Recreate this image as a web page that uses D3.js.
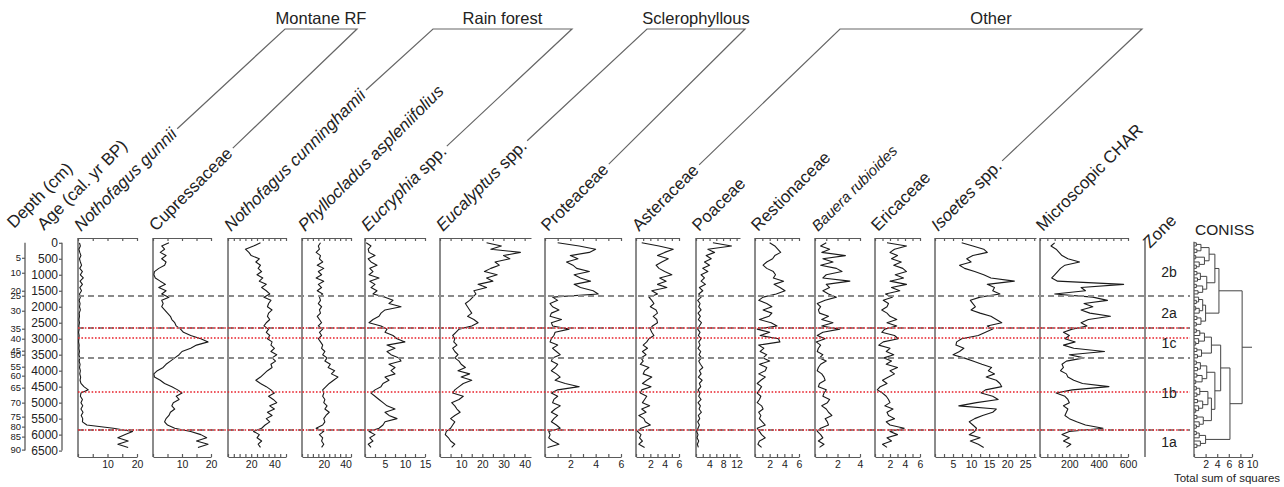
<!DOCTYPE html>
<html>
<head>
<meta charset="utf-8">
<title>Pollen diagram</title>
<script src="https://cdnjs.cloudflare.com/ajax/libs/d3/7.8.5/d3.min.js"></script>
<style>
  body { margin: 0; background: #fff; }
  svg { display: block; font-family: Arial, "Liberation Sans", Helvetica, sans-serif; }
</style>
</head>
<body>
<svg id="chart" width="1284" height="487"></svg>
<script>
// sample ages (cal. yr BP)
const ages = [0,100,200,300,400,500,600,700,800,900,
  1000,1100,1200,1300,1400,1500,1600,1700,1800,1900,
  2000,2100,2200,2300,2400,2500,2600,2700,2800,2900,
  3000,3100,3200,3300,3400,3500,3600,3700,3800,3900,
  4000,4100,4200,4300,4400,4500,4600,4700,4800,4900,
  5000,5100,5200,5300,5400,5500,5600,5700,5800,5900,
  6000,6100,6200,6300,6400];

// percentages, one value per sample
const nGunnii = [0.5,0.8,0.3,0.6,1.0,0.5,0.8,1.2,0.6,1.5, 0.8,1.8,0.7,1.5,0.6,1.2,0.5,0.8,0.4,0.7,
  0.5,0.8,0.4,0.5,0.3,0.5,0.3,0.4,0.2,0.4, 0.3,0.2,0.4,0.3,0.5,0.3,0.6,0.4,0.7,0.5,
  0.8,0.6,0.9,0.7,1.0,2.0,3.5,1.0,0.8,1.5, 1.0,1.6,1.0,1.7,1.1,1.6,1.5,3.0,12,18.5, 16,13.5,17,13.5,17];
const cupressaceae = [5.5,3.0,4.0,2.5,4.5,3.0,4.5,4.0,2.0,0.5, 0.3,0.8,2.5,4.3,2.0,4.5,3.0,5.5,3.0,3.5,
  3.0,4.0,5.0,6.0,6.5,7.5,8.0,9.5,10.5,13.0, 16.5,19.0,15.0,13.0,10.0,9.0,7.5,6.0,4.5,3.5,
  1.5,0.3,0.5,2.5,4.0,6.5,8.5,10.0,8.0,9.0, 7.0,6.5,7.5,6.0,5.5,4.5,4.0,5.0,7.5,13.0, 16.5,18.5,15.0,19.0,15.5];
const nCunninghamii = [28,22,15,18,20,27,24,28,26,29, 25,30,27,33,29,33,36,31,37,35,
  34,38,35,34,36,33,31,35,33,36, 34,38,37,40,37,42,38,41,37,38,
  34,31,28,24,28,33,37,40,35,39, 42,36,40,34,38,33,36,32,29,22, 27,25,29,26,28];
const phyllocladus = [17,15,16,13,17,16,19,14,20,15, 18,13,20,15,18,14,19,16,17,15,
  18,16,17,14,16,18,15,19,16,18, 15,17,19,18,21,19,23,21,26,24,
  30,27,33,29,25,22,19,20,19,21, 20,23,21,25,22,20,21,19,13,20, 16,19,18,20,18];
const eucryphia = [0.3,1.5,0.8,1.0,2.5,0.8,1.5,3.0,1.2,2.0, 1.0,3.5,1.2,2.5,1.5,3.0,2.0,5.0,7.0,6.0,
  9.0,5.0,4.0,3.5,2.0,1.0,4.0,5.5,5.0,7.0, 8.0,10.0,5.5,7.5,5.5,6.5,8.5,9.0,6.0,7.5,
  6.5,7.5,5.0,6.0,4.5,4.0,2.5,1.5,2.5,3.5, 4.5,5.5,7.5,5.0,6.0,8.0,5.0,4.5,3.5,1.0, 2.5,1.2,2.0,0.8,1.5];
const eucalyptus = [22,29,24,38,30,33,26,28,24,21, 27,22,25,18,22,16,17,15.5,14,12,
  13,14,15,13,16,18,15,9,7.5,6, 7,6.5,8,6,7,8.5,7,9,10,12,
  8.5,14,10,15,11,9,7,6,11,9, 5.5,7,8,9.5,7,5,7,6,5,3, 2.5,4,5,7,5.5];
const proteaceae = [1.0,2.7,4.0,3.5,2.0,2.6,1.7,2.2,2.5,3.5, 2.3,2.8,3.6,2.3,2.8,3.8,4.2,0.6,1.0,0.4,
  0.6,1.1,0.5,0.4,1.3,0.5,0.6,1.9,0.8,0.7, 0.5,0.4,1.0,0.6,0.9,1.2,0.6,0.5,1.0,0.8,
  0.5,0.9,1.2,0.8,1.6,2.7,1.0,0.5,1.0,0.7, 0.6,1.2,0.8,0.5,1.0,0.7,0.5,0.9,1.2,0.3, 0.4,0.3,0.6,1.1,0.2];
const asteraceae = [0.8,3.2,5.2,4.0,3.0,4.5,3.6,2.8,3.2,4.0, 5.0,3.3,4.2,3.0,4.3,2.2,3.0,1.8,2.2,2.5,
  2.0,2.8,3.0,2.4,2.9,3.0,2.3,2.0,2.2,2.5, 1.8,1.5,1.0,1.6,0.9,1.4,0.7,1.0,0.6,1.8,
  1.2,1.0,2.2,1.5,0.9,2.1,0.8,0.6,1.5,1.2, 0.9,1.9,0.8,1.4,0.4,1.1,1.3,2.0,0.7,0.2, 0.7,0.5,0.9,0.4,1.2];
const poaceae = [5,10.5,3.5,5.5,3,4.5,2.5,4,2,3.5, 1.5,2.5,1.5,2.8,1.0,2.0,0.8,1.5,0.5,1.2,
  0.8,1.5,0.6,1.3,0.7,1.6,1.0,0.5,1.2,0.7, 1.5,0.8,1.2,0.6,1.4,0.9,1.6,0.8,1.3,2.0,
  1.0,1.5,0.7,1.8,1.0,1.4,0.6,1.2,0.8,1.5, 0.6,1.3,0.9,1.6,0.7,1.1,0.5,1.0,0.6,0.2, 0.6,0.3,0.8,0.4,0.7];
const restionaceae = [2.0,2.7,3.1,3.5,2.7,2.4,1.6,1.1,1.6,2.5, 2.8,2.5,3.9,2.6,3.4,4.1,2.9,1.1,0.5,1.6,
  2.3,1.1,2.3,1.9,0.6,2.2,3.0,0.3,2.0,0.7, 3.2,3.4,0.5,1.2,0.7,1.6,1.1,2.0,0.6,1.6,
  1.4,0.5,1.4,0.8,0.3,0.9,0.6,0.3,0.8,0.6, 0.3,0.9,1.1,0.5,0.8,0.6,1.0,1.4,0.3,0.6, 0.9,1.4,0.6,0.4,0.9];
const bauera = [1.0,0.5,1.3,0.6,2.7,0.7,1.6,0.5,1.9,2.4, 1.0,0.7,3.1,1.0,1.3,0.7,1.2,1.9,0.9,0.2,
  0.5,0.3,0.4,1.2,0.6,1.6,0.6,2.2,0.7,0.2, 0.9,0.1,0.5,0.3,0.2,0.7,0.4,1.0,0.5,0.3,
  0.2,0.6,0.8,0.9,0.4,0.3,1.0,0.8,0.7,1.3, 1.1,0.6,1.0,1.2,1.5,0.9,1.1,1.2,0.5,0.2, 0.5,0.7,0.3,0.8,0.4];
const ericaceae = [1.6,4.2,2.6,2.0,3.0,2.2,3.5,2.5,3.7,4.2, 2.7,3.8,2.0,4.2,2.2,3.3,1.4,2.3,1.1,1.8,
  1.6,0.9,1.6,2.0,2.9,1.6,2.9,1.3,0.9,2.6, 3.1,1.1,0.5,2.0,1.5,2.5,1.2,2.2,1.5,3.0,
  2.0,2.6,1.8,1.0,1.6,0.7,0.3,1.0,1.5,1.8, 2.0,1.3,2.4,1.6,1.8,2.6,1.5,2.0,3.9,2.0, 3.0,1.6,2.2,1.0,1.6];
const isoetes = [7.4,10.5,13.5,14.5,10.5,8.8,10.0,6.8,8.2,11.0, 13.5,15.5,22.0,14.5,16.5,16.0,18.0,12.5,9.8,10.5,
  11.2,10.0,12.5,15.5,17.0,18.5,14.5,16.0,14.0,12.0, 7.4,6.0,5.8,8.0,6.8,5.0,8.0,10.5,13.0,15.7,
  14.8,16.5,14.2,17.0,18.0,18.5,14.0,12.8,16.0,17.5, 11.5,6.6,17.0,16.0,13.2,11.0,9.5,10.5,11.5,11.0, 9.5,12.5,9.8,12.0,13.5];
const charcoal = [100,75,110,130,150,190,270,170,140,120, 100,80,120,570,280,310,100,360,460,300,
  360,280,340,480,330,280,320,220,160,200, 170,240,160,230,440,200,300,180,150,160,
  140,180,190,230,290,470,220,110,170,190, 200,160,190,180,170,200,250,310,430,200, 150,200,160,210,180];

const series = [nGunnii, cupressaceae, nCunninghamii, phyllocladus, eucryphia, eucalyptus,
  proteaceae, asteraceae, poaceae, restionaceae, bauera, ericaceae, isoetes, charcoal];

// taxon names: italic part + plain part
const nameItalic = ["Nothofagus gunnii", "", "Nothofagus cunninghamii", "Phyllocladus aspleniifolius",
  "Eucryphia", "Eucalyptus", "", "", "", "", "Bauera rubioides", "", "Isoetes", ""];
const namePlain = ["", "Cupressaceae", "", "", " spp.", " spp.", "Proteaceae", "Asteraceae",
  "Poaceae", "Restionaceae", "", "Ericaceae", " spp.", "Microscopic CHAR"];

const domainMax = [20, 20, 50, 45, 15, 43, 6, 6, 13, 6, 4, 6, 28, 600];
const tickLabels = [[10,20],[10,20],[20,40],[20,40],[5,10,15],[10,20,30,40],[2,4,6],[2,4,6],
  [4,8,12],[2,4,6],[2,4],[2,4,6],[5,10,15,20,25],[200,400,600]];
const minorStep = [5, 5, 5, 5, 2.5, 5, 1, 1, 2, 1, 1, 1, 2.5, 50];

const groupNames = ["Montane RF", "Rain forest", "Sclerophyllous", "Other"];
const groupFirst = [0, 2, 5, 7];
const groupLast = [1, 4, 6, 12];

const depthTicks = [5,10,20,25,30,35,40,45,50,55,60,65,70,75,80,85,90];
const depthAges = [469,937,1500,1656,2125,2687,3000,3375,3500,3875,4156,4531,5000,5437,5750,6062,6469];
const ageTicks = [0,500,1000,1500,2000,2500,3000,3500,4000,4500,5000,5500,6000,6500];

const dashedAges = [1664, 2665, 3604, 5856];
const dottedAges = [2665, 2978, 4667, 5856];
const zoneNames = ["2b", "2a", "1c", "1b", "1a"];
const zoneLabelAges = [913, 2196, 3134, 4699, 6231];

// CONISS: contiguous clusters [first sample, last sample, total sum of squares]
const clusters = [
  [0,1,0.4],[2,3,0.5],[0,3,1.2],[4,5,0.3],[7,8,0.4],[6,8,0.9],[4,8,1.8],[0,8,2.6],
  [9,10,0.5],[11,12,0.6],[9,12,1.1],[13,14,0.4],[15,16,0.7],[13,16,1.5],[9,16,2.2],[0,16,3.6],
  [18,19,0.4],[17,19,0.8],[20,21,0.3],[20,22,0.9],[17,22,1.5],[23,24,0.5],[25,26,0.4],[23,26,1.2],[17,26,2.0],
  [0,26,4.3],
  [27,28,0.4],[27,29,1.0],[31,32,0.3],[30,32,0.8],[27,32,1.8],[33,34,0.5],[35,36,0.6],[33,36,1.3],[27,36,3.0],
  [37,38,0.4],[39,40,0.6],[37,40,1.1],[41,42,0.5],[43,44,0.3],[41,44,1.4],[37,44,2.2],
  [45,46,0.4],[47,48,0.5],[45,48,1.0],[49,50,0.6],[52,53,0.3],[51,53,0.8],[49,53,1.5],[45,53,2.4],
  [54,55,0.5],[57,58,0.4],[56,58,0.9],[54,58,1.6],[45,58,3.0],[37,58,3.6],
  [27,58,4.6],
  [59,60,0.4],[59,61,0.9],[63,64,0.5],[62,64,1.1],[59,64,2.0],
  [27,64,6.2],
  [0,64,8.3]
];
const conissTicks = [2, 4, 6, 8, 10];

// ---- layout ----
const topY = 238, bottomY = 457;
const panelLeft  = [78, 153, 228, 302, 365, 440, 545, 636, 696, 755, 815, 875, 935, 1040];
const panelRight = [137, 211, 286, 351, 425, 531, 621, 679, 740, 799, 860, 920, 1036, 1128];
const bracketLeft = [285, 433, 647, 840];
const bracketRight = [357, 572, 745, 1142];
const bracketY = 29;
const axisColor = "#5a5a5a";

const svg = d3.select("#chart");
const yAge = d3.scaleLinear().domain([-150, 6700]).range([topY, bottomY]);

function styleAxis(sel) {
  sel.selectAll("path, line").attr("stroke", axisColor).attr("stroke-width", 1.2);
  sel.selectAll("text").attr("fill", "#222").style("font-family", "Arial, 'Liberation Sans', sans-serif");
}

// depth axis
const depthScale = d3.scaleLinear()
  .domain([0].concat(depthTicks))
  .range([0].concat(depthAges).map(a => yAge(a)));
const depthAxis = svg.append("g").attr("transform", "translate(25,0)")
  .call(d3.axisLeft(depthScale).tickValues(depthTicks).tickSize(3).tickPadding(1).tickFormat(d3.format("d")));
depthAxis.select(".domain").remove();
depthAxis.selectAll("text").style("font-size", "9.5px");
styleAxis(depthAxis);
svg.append("line").attr("x1", 25).attr("x2", 25).attr("y1", yAge(0)).attr("y2", yAge(6500))
  .attr("stroke", axisColor).attr("stroke-width", 1.3);

// age axis
const ageAxis = svg.append("g").attr("transform", "translate(62,0)")
  .call(d3.axisLeft(yAge).tickValues(ageTicks).tickSize(3).tickPadding(1).tickFormat(d3.format("d")));
ageAxis.select(".domain").remove();
ageAxis.selectAll("text").style("font-size", "12px");
styleAxis(ageAxis);
svg.append("line").attr("x1", 62).attr("x2", 62).attr("y1", yAge(0)).attr("y2", yAge(6500))
  .attr("stroke", axisColor).attr("stroke-width", 1.3);

// rotated header labels on the left
function rotLabel(x, y, size) {
  return svg.append("text")
    .attr("transform", `translate(${x},${y}) rotate(-45)`)
    .style("font-size", size + "px").attr("fill", "#222");
}
rotLabel(14, 229, 17).text("Depth (cm)");
rotLabel(44, 231, 17).text("Age (cal. yr BP)");

// panels
const labelEnds = [];
series.forEach((vals, i) => {
  const x = d3.scaleLinear().domain([0, domainMax[i]]).range([panelLeft[i], panelRight[i]]);
  const minor = d3.range(0, domainMax[i] + 1e-9, minorStep[i]);

  const top = svg.append("g").attr("transform", `translate(0,${topY})`)
    .call(d3.axisBottom(x).tickValues(minor).tickSizeInner(3).tickSizeOuter(0).tickFormat(""));
  styleAxis(top);

  const bottom = svg.append("g").attr("transform", `translate(0,${bottomY})`)
    .call(d3.axisBottom(x).tickValues(minor).tickSizeInner(-3).tickSizeOuter(0).tickPadding(4)
      .tickFormat(d => tickLabels[i].includes(d) ? d : ""));
  bottom.selectAll("text").style("font-size", "10.5px");
  styleAxis(bottom);

  svg.append("line").attr("x1", panelLeft[i]).attr("x2", panelLeft[i])
    .attr("y1", topY).attr("y2", bottomY)
    .attr("stroke", axisColor).attr("stroke-width", 1.4);

  const pts = ages.map((a, k) => [a, vals[k]]);
  svg.append("path").datum(pts)
    .attr("fill", "none").attr("stroke", "#1a1a1a").attr("stroke-width", 1.1)
    .attr("stroke-linejoin", "round")
    .attr("d", d3.line().x(d => x(d[1])).y(d => yAge(d[0])));

  // taxon label
  const size = i === 10 ? 15 : 17;
  const ax = panelLeft[i] + 3, ay = 232;
  const t = rotLabel(ax, ay, size);
  if (nameItalic[i]) t.append("tspan").style("font-style", "italic").text(nameItalic[i]);
  if (namePlain[i]) t.append("tspan").text(namePlain[i]);
  const L = t.node().getComputedTextLength();
  const c = Math.SQRT1_2;
  labelEnds[i] = [ax + (L + 4) * c - 5 * c, ay - (L + 4) * c - 5 * c];
});

// group brackets
groupNames.forEach((name, g) => {
  const a = labelEnds[groupFirst[g]], b = labelEnds[groupLast[g]];
  svg.append("path")
    .attr("d", `M${a[0]},${a[1]}L${bracketLeft[g]},${bracketY}L${bracketRight[g]},${bracketY}L${b[0]},${b[1]}`)
    .attr("fill", "none").attr("stroke", "#666").attr("stroke-width", 1.2);
  svg.append("text")
    .attr("x", (bracketLeft[g] + bracketRight[g]) / 2).attr("y", bracketY - 5)
    .attr("text-anchor", "middle").style("font-size", "16.5px").attr("fill", "#222")
    .text(name);
});

// zone boundaries
svg.selectAll(".dashed").data(dashedAges).join("line")
  .attr("x1", 78).attr("x2", 1190)
  .attr("y1", d => yAge(d)).attr("y2", d => yAge(d))
  .attr("stroke", "#8a8a8a").attr("stroke-width", 2).attr("stroke-dasharray", "6,4");
svg.selectAll(".dotted").data(dottedAges).join("line")
  .attr("x1", 78).attr("x2", 1190)
  .attr("y1", d => yAge(d)).attr("y2", d => yAge(d))
  .attr("stroke", "#e8202a").attr("stroke-width", 1.6).attr("stroke-dasharray", "1.6,1.8");

// zone column
svg.append("line").attr("x1", 1145).attr("x2", 1145).attr("y1", topY).attr("y2", bottomY)
  .attr("stroke", axisColor).attr("stroke-width", 1.4);
rotLabel(1150, 249, 17).text("Zone");
svg.selectAll(".zone").data(zoneNames).join("text")
  .attr("x", 1169).attr("y", (d, i) => yAge(zoneLabelAges[i]))
  .attr("dy", "0.35em").attr("text-anchor", "middle")
  .style("font-size", "14px").attr("fill", "#222").text(d => d);

// CONISS dendrogram
const xC = d3.scaleLinear().domain([0, 10]).range([1194, 1252]);
const sorted = clusters.slice().sort((a, b) => (b[1] - b[0]) - (a[1] - a[0]));
function build(lo, hi, h) {
  const kids = [];
  let i = lo;
  while (i <= hi) {
    const c = sorted.find(c => c[0] === i && c[1] <= hi && !(c[0] === lo && c[1] === hi));
    if (c) { kids.push(build(c[0], c[1], c[2])); i = c[1] + 1; }
    else { kids.push({ x: xC(0), y: yAge(ages[i]) }); i++; }
  }
  return { x: xC(h), y: (kids[0].y + kids[kids.length - 1].y) / 2, kids };
}
const root = build(0, ages.length - 1, 8.3);
const dendro = svg.append("g").attr("stroke", "#444").attr("stroke-width", 1).attr("fill", "none");
(function draw(n) {
  if (!n.kids) return;
  dendro.append("line").attr("x1", n.x).attr("x2", n.x)
    .attr("y1", n.kids[0].y).attr("y2", n.kids[n.kids.length - 1].y);
  n.kids.forEach(k => {
    dendro.append("line").attr("x1", k.x).attr("x2", n.x).attr("y1", k.y).attr("y2", k.y);
    draw(k);
  });
})(root);
dendro.append("line").attr("x1", root.x).attr("x2", xC(10)).attr("y1", root.y).attr("y2", root.y);
dendro.append("line").attr("x1", xC(0)).attr("x2", xC(0)).attr("y1", yAge(0) - 1).attr("y2", bottomY)
  .attr("stroke", axisColor).attr("stroke-width", 1.3);

const cAxis = svg.append("g").attr("transform", `translate(0,${bottomY})`)
  .call(d3.axisBottom(xC).tickValues([0].concat(conissTicks)).tickSizeInner(-3).tickSizeOuter(0).tickPadding(4)
    .tickFormat(d => d === 0 ? "" : d));
cAxis.selectAll("text").style("font-size", "10.5px");
styleAxis(cAxis);

svg.append("text").attr("x", 1195).attr("y", 235)
  .style("font-size", "15.5px").attr("fill", "#222").text("CONISS");
svg.append("text").attr("x", 1227).attr("y", 482).attr("text-anchor", "middle")
  .style("font-size", "11.5px").attr("fill", "#222").text("Total sum of squares");
</script>
</body>
</html>
